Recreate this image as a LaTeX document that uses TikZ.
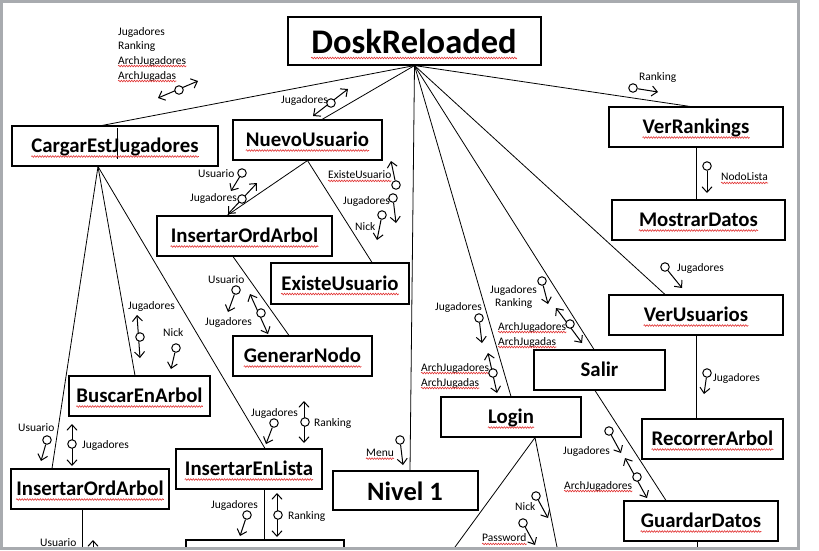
\documentclass[tikz,border=0pt]{standalone}
\usepackage{fontspec}
\setmainfont{Carlito}
\usetikzlibrary{arrows.meta,decorations.pathmorphing}
\definecolor{framegray}{RGB}{168,171,175}
\definecolor{squigred}{RGB}{225,50,50}
\newcommand\sqbox[1]{\draw[squig] ([yshift=-4pt]#1.base west) -- ([yshift=-4pt]#1.base east);}
\newcommand\sqsmall[1]{\draw[squig] ([yshift=-2pt]#1.base west) -- ([yshift=-2pt]#1.base east);}
\begin{document}
\begin{tikzpicture}[x=1pt,y=-1pt,
  box/.style={draw,line width=1.1pt,minimum height=40pt,inner sep=0pt},
  btxt/.style={font=\fontsize{20.8}{24}\selectfont\bfseries,inner sep=0pt,anchor=base},
  lbl/.style={font=\fontsize{11.5}{13}\selectfont,inner sep=0pt,anchor=west},
  link/.style={line width=0.8pt},
  flow/.style={line width=1pt,-{Straight Barb[length=5.5pt,width=10pt]}},
  bflow/.style={line width=1pt,{Straight Barb[length=5.5pt,width=10pt]}-{Straight Barb[length=5.5pt,width=10pt]}},
  dot/.style={circle,draw,line width=1pt,minimum size=8.5pt,inner sep=0pt,fill=white},
  squig/.style={draw=squigred,line width=0.6pt,decorate,decoration={snake,amplitude=0.8pt,segment length=2.6pt}}
]
\useasboundingbox (0,0) rectangle (819,550);
\fill[white] (0,0) rectangle (819,550);
\begin{scope}
\clip (3,3) rectangle (796.5,547);
% ---------- boxes ----------
\node[box,minimum width=253pt,minimum height=48pt] (dosk) at (414.5,41) {};
\node[font=\fontsize{34.5}{38}\selectfont\bfseries,inner sep=0pt,anchor=base] (doskt) at (414,53) {DoskReloaded};
\node[box,minimum width=206pt] (cej) at (115,146) {};
\node[btxt] (cejt) at ([yshift=-6.5pt]cej.center) {CargarEstJugadores};
\node[box,minimum width=149pt] (nuevo) at (307.5,140) {};
\node[btxt] (nuevot) at ([yshift=-6.5pt]nuevo.center) {NuevoUsuario};
\node[box,minimum width=175pt] (ioa1) at (244.5,236) {};
\node[btxt] (ioa1t) at ([yshift=-6.5pt]ioa1.center) {InsertarOrdArbol};
\node[box,minimum width=138pt,minimum height=41pt] (existe) at (340,283.5) {};
\node[btxt] (existet) at ([yshift=-6.5pt]existe.center) {ExisteUsuario};
\node[box,minimum width=139pt] (gen) at (302.5,356) {};
\node[btxt] (gent) at ([yshift=-6.5pt]gen.center) {GenerarNodo};
\node[box,minimum width=141pt] (buscar) at (139.5,396) {};
\node[btxt] (buscart) at ([yshift=-6.5pt]buscar.center) {BuscarEnArbol};
\node[box,minimum width=158pt] (ioa2) at (90,489) {};
\node[btxt] (ioa2t) at ([yshift=-6.5pt]ioa2.center) {InsertarOrdArbol};
\node[box,minimum width=146pt] (iel) at (249,469) {};
\node[btxt] (ielt) at ([yshift=-6.5pt]iel.center) {InsertarEnLista};
\node[box,minimum width=158pt] (lowbox) at (265,560) {};
\node[box,minimum width=145pt,minimum height=39pt] (nivel) at (405.5,490.5) {};
\node[font=\fontsize{26.5}{30}\selectfont\bfseries,inner sep=0pt,anchor=base] (nivelt) at (405,500) {Nivel 1};
\node[box,minimum width=140pt] (login) at (511,417) {};
\node[btxt] (logint) at ([yshift=-6.5pt]login.center) {Login};
\node[box,minimum width=131pt] (salir) at (599.5,370) {};
\node[btxt] (salirt) at ([yshift=-6.5pt]salir.center) {Salir};
\node[box,minimum width=154pt] (guardar) at (701,521) {};
\node[btxt] (guardart) at ([yshift=-6.5pt]guardar.center) {GuardarDatos};
\node[box,minimum width=174pt] (verus) at (696,315) {};
\node[btxt] (verust) at ([yshift=-6.5pt]verus.center) {VerUsuarios};
\node[box,minimum width=141pt] (recorrer) at (712.5,439) {};
\node[btxt] (recorrert) at ([yshift=-6.5pt]recorrer.center) {RecorrerArbol};
\node[box,minimum width=174pt] (verrank) at (696,127) {};
\node[btxt] (verrankt) at ([yshift=-6.5pt]verrank.center) {VerRankings};
\node[box,minimum width=173pt] (mostrar) at (698.5,220) {};
\node[btxt] (mostrart) at ([yshift=-6.5pt]mostrar.center) {MostrarDatos};
% text cursor inside CargarEstJugadores
\draw[line width=0.8pt] (117,128) -- (117,159);
% spell-check squiggles
\draw[squig] ([yshift=-5pt]doskt.base west) -- ([yshift=-5pt]doskt.base east);
\sqbox{cejt}\sqbox{nuevot}\sqbox{ioa1t}\sqbox{existet}\sqbox{gent}\sqbox{buscart}
\sqbox{ioa2t}\sqbox{ielt}\sqbox{logint}\sqbox{guardart}\sqbox{verust}\sqbox{recorrert}
\sqbox{verrankt}\sqbox{mostrart}
% ---------- connectors ----------
\coordinate (ioa2down) at (82,560);
\coordinate (loginL) at (445.5,560);
\coordinate (loginR) at (559.6,560);
\coordinate (guardown) at (697,560);
\draw[link] (dosk.south) -- ([xshift=-13pt]cej.north);
\draw[link] (dosk.south) -- ([xshift=14.5pt]nuevo.north);
\draw[link] (dosk.south) -- ([xshift=4.5pt]nivel.north);
\draw[link] (dosk.south) -- (login.north);
\draw[link] (dosk.south) -- ([xshift=-5.5pt]salir.north);
\draw[link] (dosk.south) -- ([xshift=-31pt]verus.north);
\draw[link] (dosk.south) -- ([xshift=-6pt]verrank.north);
\draw[link] (nuevo.south) -- ([xshift=-17.5pt]ioa1.north);
\draw[link] (nuevo.south) -- ([xshift=32pt]existe.north);
\draw[link] ([xshift=-11.5pt]ioa1.south) -- ([xshift=-13.5pt]gen.north);
\draw[link] ([xshift=-17pt]cej.south) -- ([xshift=-38pt]ioa2.north);
\draw[link] ([xshift=-17pt]cej.south) -- ([xshift=-4.5pt]buscar.north);
\draw[link] ([xshift=-17pt]cej.south) -- ([xshift=16pt]iel.north);
\draw[link] ([xshift=-8pt]ioa2.south) -- (ioa2down);
\draw[link] ([xshift=15pt]iel.south) -- ([xshift=-1pt]lowbox.north);
\draw[link] ([xshift=24pt]login.south) -- (loginL);
\draw[link] ([xshift=24pt]login.south) -- (loginR);
\draw[link] ([xshift=-4.5pt]salir.south) -- ([xshift=-35pt]guardar.north);
\draw[link] ([xshift=-4pt]guardar.south) -- (guardown);
\draw[link] (verus.south) -- (verus.south |- recorrer.north);
\draw[link] (verrank.south) -- (verrank.south |- mostrar.north);
% ---------- labels ----------
\node[lbl] (a1) at (118,32) {Jugadores};
\node[lbl] (a2) at (118,46) {Ranking};
\node[lbl] (a3) at (118,61) {ArchJugadores};
\node[lbl] (a4) at (118,76) {ArchJugadas};
\node[lbl] (b1) at (281,100) {Jugadores};
\node[lbl] (c1) at (198,174) {Usuario};
\node[lbl] (c2) at (190,198) {Jugadores};
\node[lbl] (d1) at (328,175) {ExisteUsuario};
\node[lbl] (d2) at (343,201) {Jugadores};
\node[lbl] (d3) at (355,227) {Nick};
\node[lbl] (e1) at (208,280) {Usuario};
\node[lbl] (e2) at (205,322) {Jugadores};
\node[lbl] (f1) at (128,306) {Jugadores};
\node[lbl] (f2) at (163,333) {Nick};
\node[lbl] (g1) at (18,428) {Usuario};
\node[lbl] (g2) at (82,445) {Jugadores};
\node[lbl] (h1) at (251,413) {Jugadores};
\node[lbl] (h2) at (314,423) {Ranking};
\node[lbl] (i1) at (211,505) {Jugadores};
\node[lbl] (i2) at (288,516) {Ranking};
\node[lbl] (j1) at (40,543) {Usuario};
\node[lbl] (k1) at (366,453) {Menu};
\node[lbl] (m1) at (435,307) {Jugadores};
\node[lbl] (m2) at (421,368) {ArchJugadores};
\node[lbl] (m3) at (421,383) {ArchJugadas};
\node[lbl] (n1) at (490,290) {Jugadores};
\node[lbl] (n2) at (495,303) {Ranking};
\node[lbl] (n3) at (498,327) {ArchJugadores};
\node[lbl] (n4) at (498,342) {ArchJugadas};
\node[lbl] (o1) at (677,268) {Jugadores};
\node[lbl] (p1) at (713,378) {Jugadores};
\node[lbl] (q1) at (721,177) {NodoLista};
\node[lbl] (r1) at (639,77) {Ranking};
\node[lbl] (s1) at (563,451) {Jugadores};
\node[lbl] (s2) at (564,486) {ArchJugadores};
\node[lbl] (t1) at (515,507) {Nick};
\node[lbl] (t2) at (482,538) {Password};
\sqsmall{a3}\sqsmall{a4}\sqsmall{d1}\sqsmall{k1}\sqsmall{m2}\sqsmall{m3}
\sqsmall{n3}\sqsmall{n4}\sqsmall{q1}\sqsmall{s2}\sqsmall{t2}
% ---------- single flows (circle + arrow) ----------
\foreach \n/\cx/\cy/\tx/\ty in {
  s1/396/185/391/161, s2/393/198/396/223, s3/382/215/377/240,
  s4/242/173/231/191, s5/236/290/228/312, s6/176/348/171/369,
  s7/47/440/41/461, s8/274/423/266/444, s9/247/515/240/536,
  s10/400/440/403/465, s11/479/318/482/343, s12/542/281/548/304,
  s13/665/267/682/288, s14/707/373/704/394, s15/707/166/707/193,
  s16/633/88/658/92, s17/609/431/621/453, s18/536/496/548/518,
  s19/523/523/535/545, s20/543/552/552/570}{
  \node[dot] (\n c) at (\cx,\cy) {};
  \coordinate (\n t) at (\tx,\ty);
  \draw[flow] (\n c) -- (\n t);
}
% ---------- double flows ----------
\foreach \n/\ax/\ay/\bx/\by/\cx/\cy in {
  d1/158/98/198/81/179/90, d2/313/116/348/89/331/103,
  d3/228/214/257/183/242/199, d4/250/294/268/334/261/313,
  d5/137/315/140/358/140/337, d6/72/424/72/466/72/444,
  d7/304/401/304/443/305/422, d8/277/493/277/537/278/515,
  d10/488/353/497/393/493/373, d11/556/308/582/343/570/324,
  d12/625/458/647/498/637/477}{
  \coordinate (\n a) at (\ax,\ay);
  \coordinate (\n b) at (\bx,\by);
  \draw[bflow] (\n a) -- (\n b);
  \node[dot] (\n c) at (\cx,\cy) {};
}
\coordinate (d9a) at (93,540);
\coordinate (d9b) at (93,575);
\draw[bflow] (d9a) -- (d9b);
\end{scope}
% ---------- window frame ----------
\fill[framegray] (0,0) rectangle (3,550);
\fill[framegray] (0,0) rectangle (800,2.5);
\fill[framegray] (796.5,0) rectangle (800,550);
\fill[framegray] (0,547) rectangle (800,550);
\end{tikzpicture}
\end{document}
